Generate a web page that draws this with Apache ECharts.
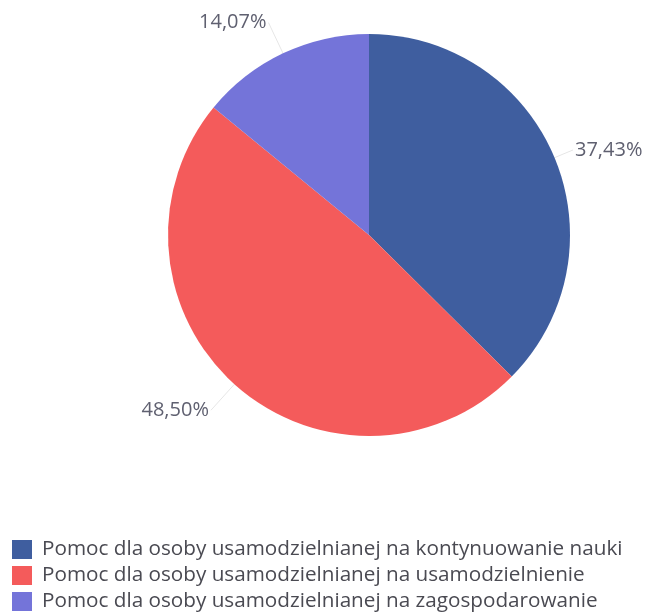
<!DOCTYPE html>
<html>
<head>
<meta charset="utf-8">
<script src="https://cdn.jsdelivr.net/npm/echarts@6/dist/echarts.min.js"></script>
<style>
  html, body { margin: 0; padding: 0; background: #fff; }
  #chart { width: 649px; height: 612px; }
</style>
</head>
<body>
<div id="chart"></div>
<script>
// kategorie i udziały (%)
const categories = [
  "Pomoc dla osoby usamodzielnianej na kontynuowanie nauki",
  "Pomoc dla osoby usamodzielnianej na usamodzielnienie",
  "Pomoc dla osoby usamodzielnianej na zagospodarowanie",
];
const shares = [37.43, 48.5, 14.07];
const colors = ["#3f5e9f", "#f45b5b", "#7474d9"];
const lineLengths = [20, 35, 34]; // długość linii etykiet

const chart = echarts.init(document.getElementById("chart"));

const option = {
  animation: false,
  color: colors,
  textStyle: { fontFamily: "Open Sans" },
  legend: {
    orient: "vertical",
    left: 12,
    bottom: 0,
    padding: 0,
    itemWidth: 20,
    itemHeight: 19,
    itemGap: 5,
    icon: "rect",
    textStyle: {
      color: "#4a4a52",
      fontSize: 20.7,
      fontFamily: "Open Sans",
      padding: [0, 0, 0, 5],
    },
  },
  series: [
    {
      type: "pie",
      center: [369, 235],
      radius: [0, 201],
      startAngle: 90,
      clockwise: true,
      data: categories.map((name, i) => ({
        name,
        value: shares[i],
        labelLine: { length: lineLengths[i] },
      })),
      label: {
        show: true,
        color: "#5f6070",
        fontSize: 20,
        overflow: "none",
        bleedMargin: 0,
        distanceToLabelLine: 2,
        formatter: (p) => p.value.toFixed(2).replace(".", ",") + "%",
      },
      labelLine: {
        show: true,
        length2: 0,
        lineStyle: { color: "#e6e6e6", width: 1 },
      },
      emphasis: { disabled: true },
    },
  ],
};

chart.setOption(option);
</script>
</body>
</html>
